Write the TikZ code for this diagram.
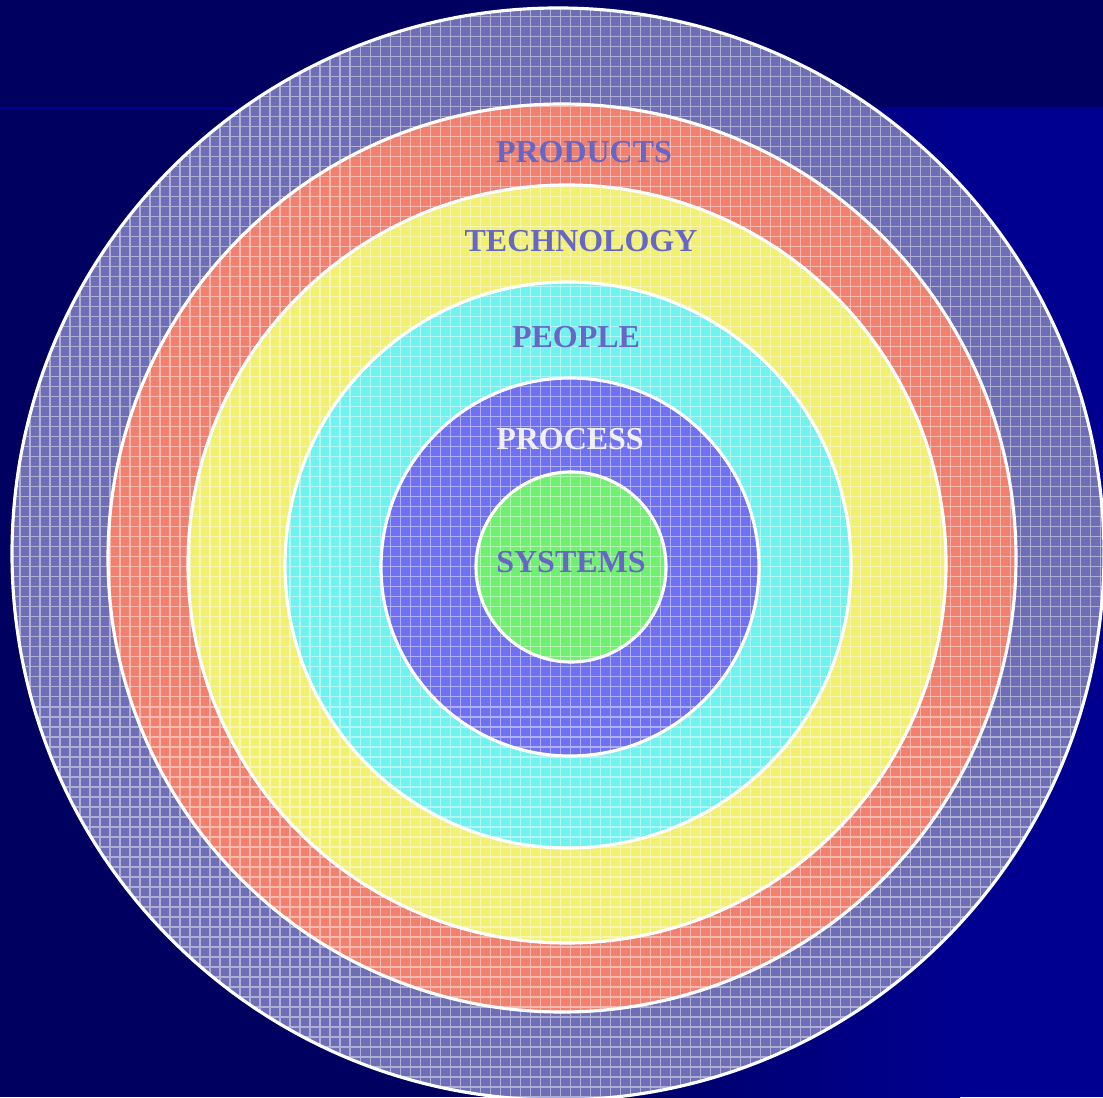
\documentclass[tikz,border=0pt]{standalone}
\usepackage{fontspec}
\setmainfont{Liberation Serif}
\definecolor{bgdark}{HTML}{000060}
\definecolor{bgblue}{HTML}{000090}
\definecolor{ringout}{HTML}{6E6EB6}
\definecolor{ringred}{HTML}{F2806E}
\definecolor{ringyel}{HTML}{F2F070}
\definecolor{ringcya}{HTML}{70F2EE}
\definecolor{ringblu}{HTML}{7070F2}
\definecolor{ringgrn}{HTML}{70F070}
\definecolor{labelblue}{HTML}{6666C6}
\tikzset{
  ringline/.style={draw=white,line width=0.9pt},
  ringlabel/.style={font=\fontsize{9.1}{11}\selectfont\bfseries,text=labelblue,inner sep=0pt},
}
\begin{document}
\begin{tikzpicture}[line cap=round,line join=round]
  \useasboundingbox (0,0) rectangle (11.03,10.97);
  % background
  \fill[bgblue] (0,0) rectangle (11.03,10.97);
  \fill[bgdark] (0,0) rectangle (5.50,9.87);
  \shade[left color=bgdark,right color=bgblue] (5.50,0) rectangle (9.60,9.87);
  \fill[bgdark] (0,9.90) rectangle (11.03,10.97);
  \coordinate (Oa) at (5.58,5.43);
  \coordinate (Ob) at (5.62,5.39);
  \coordinate (Oc) at (5.67,5.33);
  \coordinate (Od) at (5.68,5.32);
  \coordinate (Oe) at (5.70,5.30);
  \coordinate (Of) at (5.71,5.30);
  \fill[ringout] (Oa) circle (5.46);
  \fill[ringred] (Ob) circle (4.54);
  \fill[ringyel] (Oc) circle (3.79);
  \fill[ringcya] (Od) circle (2.83);
  \fill[ringblu] (Oe) circle (1.89);
  \fill[ringgrn] (Of) circle (0.95);
  % grid texture
  \begin{scope}
    \clip (Oa) circle (5.46);
    \draw[white,opacity=0.45,line width=0.3pt,step=0.1] (0,-0.1) grid (11.1,11.0);
  \end{scope}
  \draw[ringline] (Oa) circle (5.46);
  \draw[ringline] (Ob) circle (4.54);
  \draw[ringline] (Oc) circle (3.79);
  \draw[ringline] (Od) circle (2.83);
  \draw[ringline] (Oe) circle (1.89);
  \draw[ringline] (Of) circle (0.95);
  % labels
  \node[ringlabel] (products) at (5.84,9.45) {PRODUCTS};
  \node[ringlabel] (technology) at (5.81,8.56) {TECHNOLOGY};
  \node[ringlabel] (people) at (5.76,7.60) {PEOPLE};
  \node[ringlabel,text=white!94!black] (process) at (5.70,6.58) {PROCESS};
  \node[ringlabel] (systems) at (5.71,5.35) {SYSTEMS};
\end{tikzpicture}
\end{document}
